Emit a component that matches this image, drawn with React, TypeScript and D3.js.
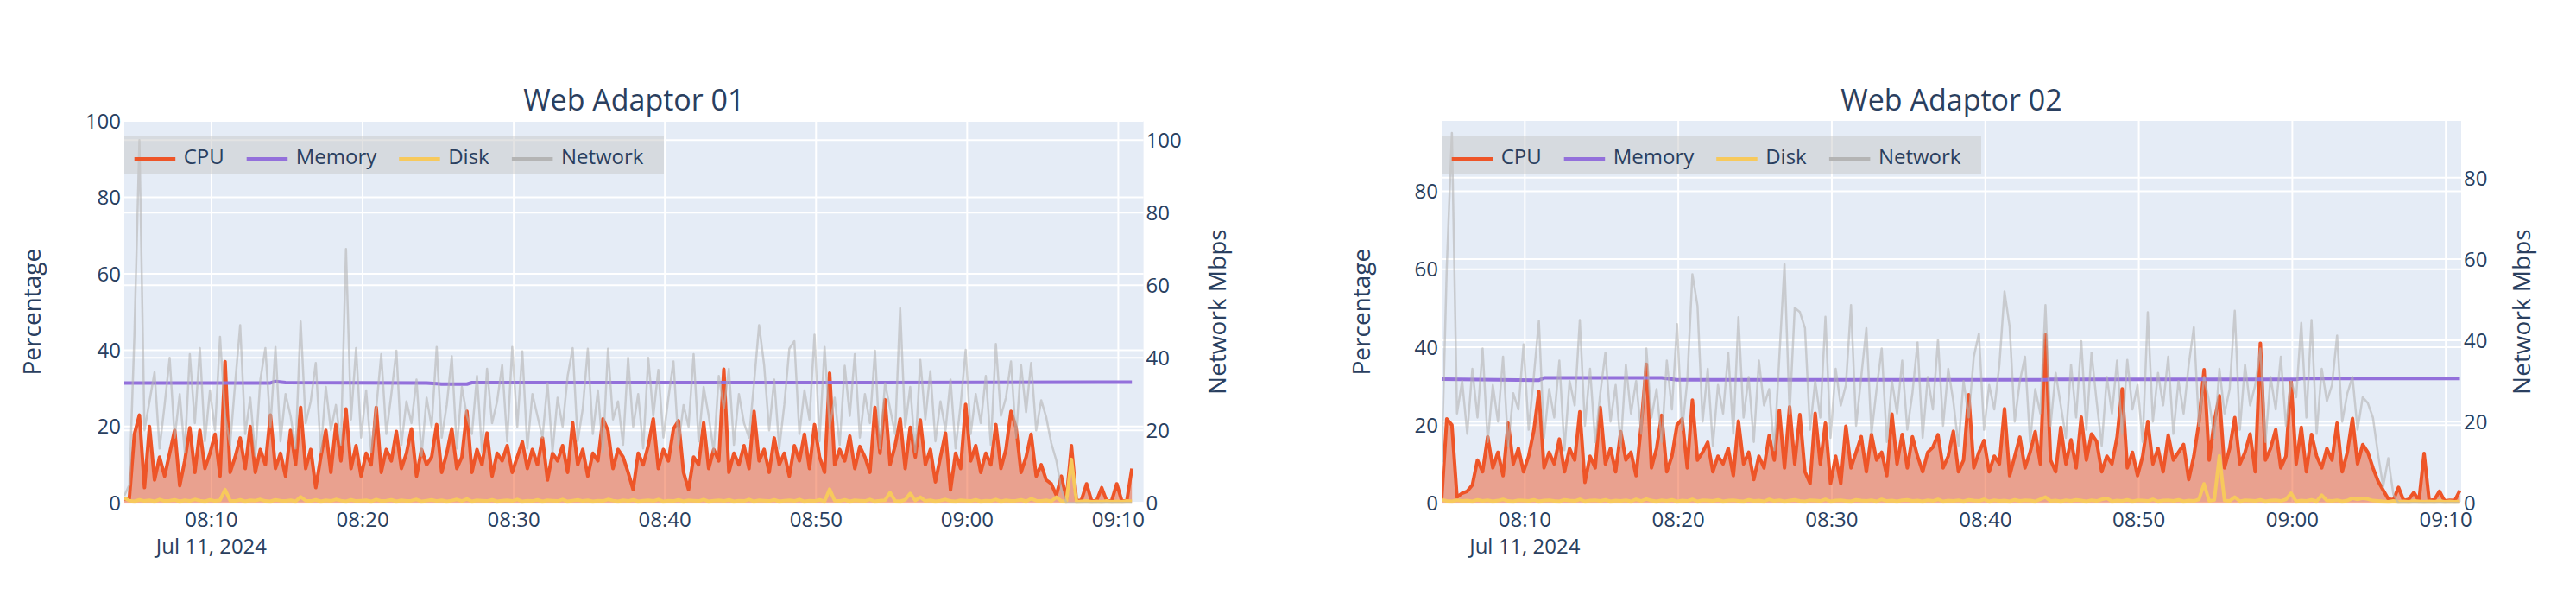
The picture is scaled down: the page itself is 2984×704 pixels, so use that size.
import React from "react";
import * as d3 from "d3";

// ---------------- DATA ----------------
const DAY = "2024-07-11T";
const SAMPLE_SECONDS = 20;

const AD1_TITLE = "Web Adaptor 01";
const AD1_START = "08:04:14";
const AD1_DOMAIN = ["08:04:14", "09:11:40"];
const AD1_CPU = [
  1, 1.2, 18, 23, 4, 20, 6, 12, 7, 13, 19, 4.5, 11, 19.7, 8, 19, 9, 13, 18, 7,
  37, 8, 12, 17, 9, 20, 8, 14, 10, 23, 9, 13, 7, 19, 10, 25, 9, 14, 4, 12,
  19, 8, 20.5, 11, 24.6, 9, 15, 7, 13, 10, 25, 8, 14, 11, 18.7, 9, 13, 19.4, 7, 14,
  10, 12, 20.5, 8, 13, 19.4, 9, 12, 24, 8, 14, 10, 18.3, 7, 13, 11, 15, 8, 12, 16,
  9, 14, 10, 17, 6, 13, 11, 15, 8, 21, 10, 14, 7, 13, 11, 22, 19, 9, 14, 12,
  8, 3.5, 13, 10, 15, 22, 9, 14, 11, 19.4, 21.5, 8, 3.5, 12, 10, 21, 9, 14, 11, 35,
  8, 13, 10, 15, 9, 24, 11, 14, 8, 17, 10, 13, 7, 15, 11, 18, 9, 20.5, 12, 8,
  34, 10, 14, 11, 17.5, 9, 14.8, 12, 8, 25, 13, 27, 10, 15, 22, 9, 19.8, 12, 21.7, 10,
  14, 5.5, 12, 18.3, 3.4, 13, 9, 25.8, 11, 15, 8, 13, 10, 20.5, 9, 14, 24, 19.8, 8, 12,
  18, 7, 10, 6, 5, 2, 7, 1, 15, 0.5, 0.8, 5, 0.5, 0.6, 4, 0.5, 0.6, 5, 0.5, 0.6,
  9,
];
const AD1_NETWORK = [
  2, 5, 46, 100, 20, 28, 36, 15, 27, 40, 18, 30, 14, 41, 22, 42.7, 17, 31, 20, 45.8,
  24, 16, 33, 49, 19, 29, 13, 34, 42.7, 21, 43, 17, 30, 24, 15, 50, 22, 28, 38.6, 14,
  32, 20, 27, 16, 70, 23, 42.7, 18, 31, 14, 26, 41, 19, 30, 42, 16, 28, 22, 34, 13,
  29, 21, 43, 18, 27, 40.4, 15, 32, 24, 19, 35, 14, 37, 22, 28, 38, 17, 43, 21, 41.8,
  15, 30, 24, 18, 33, 14, 29, 21, 35, 42.7, 17, 26, 42.5, 19, 31, 14, 42.5, 23, 28, 16,
  40, 21, 30, 15, 40, 24, 36.7, 18, 29, 39, 16, 27, 21, 41, 17, 32, 24, 14, 35, 26,
  37, 16, 30, 22, 18, 33, 49, 38, 20, 34, 15, 27, 42.5, 44.6, 19, 31, 23, 46.4, 17, 43,
  21, 29, 16, 37.8, 24, 41, 18, 30, 22, 42, 15, 33, 26, 19, 53.7, 21, 32, 14, 39.4, 23,
  36.3, 17, 28, 20, 34, 15, 27, 42.2, 19, 30, 22, 35, 16, 43.8, 24, 29, 39, 18, 38, 25,
  38.6, 20, 28.3, 23.6, 16.5, 11.7, 3.7, 0, 0, 0, 0, 0, 0, 0, 0, 0, 0, 0, 0, 0,
  0,
];
const AD1_DISK = [
  1.3, 0.6, 0.4, 0.8, 0.5, 0.7, 0.4, 0.9, 0.5, 0.6, 0.8, 0.4, 0.7, 0.5, 0.9, 0.6, 0.4, 0.8, 0.5, 0.7,
  3.5, 0.6, 0.5, 0.8, 0.4, 0.7, 0.6, 0.9, 0.5, 0.4, 0.8, 0.6, 0.5, 0.7, 0.4, 1.6, 0.6, 0.5, 0.8, 0.4,
  0.7, 0.5, 0.9, 0.6, 0.4, 0.8, 0.5, 0.6, 0.7, 0.4, 0.9, 0.5, 0.6, 0.8, 0.4, 0.7, 0.5, 0.6, 0.9, 0.4,
  0.6, 0.8, 0.5, 0.7, 0.4, 0.6, 0.9, 0.5, 1.0, 0.4, 0.7, 0.6, 0.5, 0.8, 0.4, 0.6, 0.7, 0.5, 0.9, 0.4,
  0.6, 0.5, 0.8, 0.4, 0.7, 0.6, 0.5, 0.9, 0.4, 0.6, 0.8, 0.5, 0.7, 0.4, 0.6, 0.5, 0.9, 0.6, 0.4, 0.7,
  0.5, 0.8, 0.4, 0.6, 0.7, 0.5, 0.9, 0.4, 0.6, 0.5, 0.8, 0.4, 0.7, 0.6, 0.5, 0.9, 0.4, 0.6, 0.7, 0.5,
  0.8, 0.4, 0.6, 0.5, 0.9, 0.4, 0.7, 0.6, 0.5, 0.8, 0.4, 0.6, 0.7, 0.5, 0.9, 0.4, 0.6, 0.5, 0.8, 0.4,
  3.6, 0.6, 0.5, 0.8, 0.4, 0.7, 0.6, 0.5, 0.9, 0.4, 0.6, 0.7, 2.7, 0.5, 0.4, 0.8, 2.5, 0.6, 1.5, 0.5,
  0.7, 0.4, 0.6, 0.9, 0.5, 0.4, 0.7, 0.6, 0.5, 0.8, 0.4, 0.6, 0.5, 0.9, 0.4, 0.7, 0.5, 0.6, 0.8, 0.4,
  1.1, 0.6, 0.5, 0.7, 0.4, 1.5, 0.5, 0.4, 11.4, 0.3, 0.4, 0.5, 0.3, 0.4, 0.3, 0.5, 0.3, 0.4, 0.3, 0.5,
  0.4,
];
const AD1_MEMORY_TIMES = ["08:04:14", "08:13:54", "08:14:14", "08:14:54", "08:24:14", "08:25:14", "08:26:54", "08:27:14", "08:51:14", "09:10:54"];
const AD1_MEMORY = [31.4, 31.4, 31.8, 31.5, 31.4, 31.1, 31.1, 31.5, 31.5, 31.6];

const AD2_TITLE = "Web Adaptor 02";
const AD2_START = "08:04:35";
const AD2_DOMAIN = ["08:04:35", "09:11:00"];
const AD2_CPU = [
  1, 21.6, 20, 1.5, 2.5, 3, 4.6, 11, 8, 17, 9, 13, 7, 20.5, 10, 14, 8, 12, 18.5, 28.6,
  9, 13, 10, 16.4, 8, 14, 11, 23.4, 5.3, 12, 9, 24.5, 10, 14, 8, 18.3, 11, 13, 7, 20,
  35.6, 9, 14, 22.5, 8, 12, 20, 21.6, 9, 26.4, 11, 13, 15.6, 8, 12, 10, 14, 7, 21, 10,
  13, 6, 12, 9, 17.3, 11, 23.8, 9, 24.7, 10, 22.7, 8, 5, 23, 10, 20.5, 5, 12, 5, 19.7,
  9, 13, 17, 8, 17.6, 11, 13, 7, 22.8, 10, 17.6, 9, 17, 12, 8, 13, 14.3, 17.5, 9, 12,
  18.4, 8, 11, 27.8, 9, 13, 16, 8, 12, 10, 24.2, 7, 12, 16.9, 9, 13, 18.3, 10, 43.2, 11,
  8, 19.4, 10, 16.2, 9, 22, 11, 17.7, 15.8, 8, 12, 10, 16.9, 29.3, 9, 13, 7, 12, 20.9, 10,
  14, 8, 17.4, 11, 13, 15, 6, 12, 20.7, 34.2, 11, 20.9, 27.5, 9, 14, 21.9, 10, 13, 17.7, 8,
  41, 11, 14, 18.8, 9, 12, 31.6, 10, 19.4, 8, 17.6, 12, 9, 14, 11, 20.5, 8, 13, 21.7, 10,
  15, 13, 9, 5.6, 3.3, 1, 0.8, 4, 0.6, 0.9, 2.7, 0.5, 12.7, 0.6, 0.8, 3, 0.5, 0.7, 0.6, 3.2,
];
const AD2_NETWORK = [
  10, 58, 91, 22, 30, 17, 33, 21, 38, 15, 29, 20, 36, 14, 27, 23, 39, 18, 31, 44.8,
  16, 28, 21, 35, 13, 30, 24, 45, 19, 33, 15, 27, 37, 20, 29, 14, 34, 22, 30, 17,
  38, 21, 28, 15, 35, 23, 44, 18, 30, 56.3, 48.5, 20, 33, 14, 29, 22, 37, 17, 45.7, 21,
  31, 15, 35, 24, 28, 13, 36, 58.7, 22, 48, 47, 43, 18, 30, 21, 45.8, 16, 33, 24, 29,
  48.7, 19, 31, 43, 17, 28, 38, 15, 30, 22, 35, 18, 27, 39.5, 16, 31, 23, 40.2, 19, 33,
  25, 14, 30, 21, 36, 41.7, 18, 29, 23, 34, 52, 43.4, 20, 30, 36, 15, 28, 22, 48.7, 19,
  32, 24, 16, 34, 21, 39.8, 18, 37, 25, 14, 31, 22, 35, 17, 35.2, 23, 29, 15, 46.9, 20,
  32, 24, 36, 17, 30, 22, 34, 43.2, 19, 31, 25, 16, 33, 22, 28, 47.3, 18, 34, 24, 29,
  38, 15, 31, 23, 36, 19, 30, 26, 44.3, 21, 45, 17, 33, 25, 29, 41.2, 20, 27, 31, 18,
  26, 24.6, 21, 12, 4, 11, 2, 0, 0, 0, 0, 0, 0, 0, 0, 0, 0, 0, 0, 0,
];
const AD2_DISK = [
  0.8, 0.5, 0.4, 0.7, 0.5, 0.6, 0.4, 0.8, 0.5, 0.7, 0.4, 0.6, 0.9, 0.5, 0.4, 0.7, 0.6, 0.5, 0.8, 0.4,
  0.6, 0.7, 0.5, 0.4, 0.8, 0.6, 0.5, 0.9, 0.4, 0.6, 0.7, 0.5, 0.8, 0.4, 0.6, 0.5, 0.7, 0.4, 0.9, 0.5,
  1.0, 0.6, 0.4, 0.7, 0.5, 0.8, 0.4, 0.6, 0.5, 0.9, 0.4, 0.7, 0.6, 0.5, 0.8, 0.4, 0.6, 0.7, 0.5, 0.4,
  0.8, 0.5, 0.6, 0.4, 0.9, 0.5, 0.7, 0.4, 0.6, 0.8, 0.5, 0.4, 0.7, 0.6, 0.5, 0.9, 0.4, 0.6, 0.7, 0.5,
  0.4, 0.8, 0.6, 0.5, 0.7, 0.4, 0.9, 0.5, 0.6, 0.4, 0.7, 0.8, 0.5, 0.6, 0.4, 0.7, 0.5, 0.9, 0.4, 0.6,
  0.5, 0.7, 0.4, 0.8, 0.6, 0.5, 0.9, 0.4, 0.7, 0.5, 0.6, 0.4, 0.8, 0.5, 0.7, 0.6, 0.4, 0.9, 1.5, 0.5,
  0.6, 0.4, 0.7, 0.5, 0.8, 0.6, 0.4, 0.7, 0.5, 0.9, 1.2, 0.4, 0.6, 0.5, 0.8, 0.4, 0.7, 0.6, 0.5, 0.9,
  0.4, 0.6, 0.7, 0.5, 0.8, 0.4, 0.6, 0.5, 0.9, 4.9, 0.5, 0.7, 12.1, 0.6, 0.5, 1.5, 0.4, 0.7, 0.6, 0.5,
  0.8, 0.4, 0.6, 0.7, 0.5, 0.9, 2.5, 0.4, 0.6, 0.5, 0.8, 0.4, 2.0, 0.6, 0.5, 0.7, 0.4, 0.6, 1.2, 0.9,
  1.2, 1.0, 0.6, 0.5, 0.4, 0.3, 0.5, 0.3, 0.4, 0.3, 0.5, 0.4, 0.3, 0.4, 0.3, 0.5, 0.3, 0.4, 0.3, 0.4,
];
const AD2_MEMORY_TIMES = ["08:04:35", "08:10:55", "08:11:15", "08:18:55", "08:19:55", "08:43:55", "08:44:15", "09:00:15", "09:00:35", "09:10:55"];
const AD2_MEMORY = [31.8, 31.5, 32.1, 32.1, 31.6, 31.6, 31.75, 31.75, 31.95, 31.95];

const X_TICKS = ["08:10", "08:20", "08:30", "08:40", "08:50", "09:00", "09:10"];
const DATE_LABEL = "Jul 11, 2024";
const AD1_LEFT_RANGE = [0, 100];
const AD1_RIGHT_RANGE = [0, 105.3];
const AD2_LEFT_RANGE = [0, 98.1];
const AD2_RIGHT_RANGE = [0, 94];
const AD1_LEFT_TICKS = [0, 20, 40, 60, 80, 100];
const AD1_RIGHT_TICKS = [0, 20, 40, 60, 80, 100];
const AD2_LEFT_TICKS = [0, 20, 40, 60, 80];
const AD2_RIGHT_TICKS = [0, 20, 40, 60, 80];
const SERIES_NAMES = ["CPU", "Memory", "Disk", "Network"];
const LEFT_TITLE = "Percentage";
const RIGHT_TITLE = "Network Mbps";

// ---------------- STYLE ----------------
const FONT = "'Open Sans', verdana, arial, sans-serif";
const TEXT = "#2a3f5f";
const PLOT_BG = "#e5ecf6";
const COLORS: Record<string, string> = {
  CPU: "#ee5528",
  Memory: "#9370db",
  Disk: "#f7c95c",
  Network: "#b4b4b4",
};

const parse = d3.timeParse("%Y-%m-%dT%H:%M:%S");
const toDate = (hms: string) => parse(DAY + hms) as Date;
const sampleTimes = (start: string, n: number) => {
  const t0 = toDate(start).getTime();
  return d3.range(n).map((i) => new Date(t0 + i * SAMPLE_SECONDS * 1000));
};

type PanelProps = {
  id: string;
  title: string;
  left: number;
  right: number;
  top: number;
  bottom: number;
  domain: string[];
  start: string;
  cpu: number[];
  net: number[];
  disk: number[];
  memTimes: string[];
  mem: number[];
  leftRange: number[];
  rightRange: number[];
  leftTicks: number[];
  rightTicks: number[];
  leftTitleX: number;
  rightTitleX: number;
};

const LEGEND_ITEM_X = [11.7, 141.7, 318.2, 448.9];
const LEGEND_W = 625;
const LEGEND_H = 44;
const LEGEND_TOP = 158;

function Panel(p: PanelProps) {
  const x = d3.scaleTime().domain(p.domain.map(toDate)).range([p.left, p.right]);
  const yL = d3.scaleLinear().domain(p.leftRange).range([p.bottom, p.top]);
  const yR = d3.scaleLinear().domain(p.rightRange).range([p.bottom, p.top]);
  const times = sampleTimes(p.start, p.cpu.length);
  const memDates = p.memTimes.map(toDate);

  const lineL = d3
    .line<[Date, number]>()
    .x((d) => x(d[0]))
    .y((d) => yL(d[1]));
  const lineR = d3
    .line<[Date, number]>()
    .x((d) => x(d[0]))
    .y((d) => yR(d[1]));
  const areaL = d3
    .area<[Date, number]>()
    .x((d) => x(d[0]))
    .y0(yL(0))
    .y1((d) => yL(d[1]));

  const cpuPts = p.cpu.map((v, i) => [times[i], v] as [Date, number]);
  const netPts = p.net.map((v, i) => [times[i], v] as [Date, number]);
  const diskPts = p.disk.map((v, i) => [times[i], v] as [Date, number]);
  const memPts = p.mem.map((v, i) => [memDates[i], v] as [Date, number]);

  const tickDates = X_TICKS.map((t) => toDate(t + ":00"));
  const cx = (p.left + p.right) / 2;
  const cy = (p.top + p.bottom) / 2;
  const clipId = "clip-" + p.id;

  return (
    <g>
      <defs>
        <clipPath id={clipId}>
          <rect x={p.left} y={p.top} width={p.right - p.left} height={p.bottom - p.top} />
        </clipPath>
      </defs>
      <rect x={p.left} y={p.top} width={p.right - p.left} height={p.bottom - p.top} fill={PLOT_BG} />
      {/* grid */}
      {tickDates.map((d, i) => (
        <line key={"gx" + i} x1={x(d)} x2={x(d)} y1={p.top} y2={p.bottom} stroke="#fff" strokeWidth={2} />
      ))}
      {p.leftTicks.map((t) => (
        <line key={"gl" + t} x1={p.left} x2={p.right} y1={yL(t)} y2={yL(t)} stroke="#fff" strokeWidth={2} />
      ))}
      {p.rightTicks.map((t) => (
        <line key={"gr" + t} x1={p.left} x2={p.right} y1={yR(t)} y2={yR(t)} stroke="#fff" strokeWidth={2} />
      ))}
      {/* data */}
      <g clipPath={`url(#${clipId})`}>
        <path d={areaL(cpuPts) || ""} fill={COLORS.CPU} fillOpacity={0.5} stroke="none" />
        <path d={lineL(cpuPts) || ""} fill="none" stroke={COLORS.CPU} strokeWidth={4} strokeLinejoin="round" />
        <path d={lineL(memPts) || ""} fill="none" stroke={COLORS.Memory} strokeWidth={4} strokeLinejoin="round" />
        <path d={lineL(diskPts) || ""} fill="none" stroke={COLORS.Disk} strokeWidth={4} strokeLinejoin="round" />
        <path d={lineR(netPts) || ""} fill="none" stroke={COLORS.Network} strokeOpacity={0.6} strokeWidth={2.5} strokeLinejoin="round" />
      </g>
      {/* x ticks */}
      {tickDates.map((d, i) => (
        <text key={"xt" + i} x={x(d)} y={p.bottom + 28} textAnchor="middle" fontSize={24} fill={TEXT} fontFamily={FONT}>
          {d3.timeFormat("%H:%M")(d)}
        </text>
      ))}
      <text x={x(tickDates[0])} y={p.bottom + 59} textAnchor="middle" fontSize={24} fill={TEXT} fontFamily={FONT}>
        {DATE_LABEL}
      </text>
      {/* y ticks */}
      {p.leftTicks.map((t) => (
        <text key={"yl" + t} x={p.left - 4} y={yL(t)} dy="0.36em" textAnchor="end" fontSize={24} fill={TEXT} fontFamily={FONT}>
          {t}
        </text>
      ))}
      {p.rightTicks.map((t) => (
        <text key={"yr" + t} x={p.right + 3} y={yR(t)} dy="0.36em" textAnchor="start" fontSize={24} fill={TEXT} fontFamily={FONT}>
          {t}
        </text>
      ))}
      {/* axis titles */}
      <text transform={`translate(${p.leftTitleX},${cy}) rotate(-90)`} textAnchor="middle" fontSize={28} fill={TEXT} fontFamily={FONT}>
        {LEFT_TITLE}
      </text>
      <text transform={`translate(${p.rightTitleX},${cy}) rotate(-90)`} textAnchor="middle" fontSize={28} fill={TEXT} fontFamily={FONT}>
        {RIGHT_TITLE}
      </text>
      {/* title */}
      <text x={cx} y={128} textAnchor="middle" fontSize={34} fill={TEXT} fontFamily={FONT}>
        {p.title}
      </text>
      {/* legend */}
      <rect x={p.left} y={LEGEND_TOP} width={LEGEND_W} height={LEGEND_H} fill="rgb(200,200,200)" fillOpacity={0.5} />
      {SERIES_NAMES.map((name, i) => {
        const lx = p.left + LEGEND_ITEM_X[i];
        return (
          <g key={name}>
            <line x1={lx} x2={lx + 47.5} y1={LEGEND_TOP + 26} y2={LEGEND_TOP + 26} stroke={COLORS[name]} strokeWidth={4} />
            <text x={lx + 57} y={LEGEND_TOP + 32} fontSize={24} fill={TEXT} fontFamily={FONT}>
              {name}
            </text>
          </g>
        );
      })}
    </g>
  );
}

export default function App() {
  return (
    <svg
      width={2984}
      height={704}
      viewBox="0 0 2984 704"
      style={{ position: "absolute", left: 0, top: 0, display: "block", background: "#fff" }}
    >
      <Panel
        id="a1"
        title={AD1_TITLE}
        left={144}
        right={1324.6}
        top={140}
        bottom={582.3}
        domain={AD1_DOMAIN}
        start={AD1_START}
        cpu={AD1_CPU}
        net={AD1_NETWORK}
        disk={AD1_DISK}
        memTimes={AD1_MEMORY_TIMES}
        mem={AD1_MEMORY}
        leftRange={AD1_LEFT_RANGE}
        rightRange={AD1_RIGHT_RANGE}
        leftTicks={AD1_LEFT_TICKS}
        rightTicks={AD1_RIGHT_TICKS}
        leftTitleX={47}
        rightTitleX={1420}
      />
      <Panel
        id="a2"
        title={AD2_TITLE}
        left={1670}
        right={2851}
        top={140}
        bottom={582.3}
        domain={AD2_DOMAIN}
        start={AD2_START}
        cpu={AD2_CPU}
        net={AD2_NETWORK}
        disk={AD2_DISK}
        memTimes={AD2_MEMORY_TIMES}
        mem={AD2_MEMORY}
        leftRange={AD2_LEFT_RANGE}
        rightRange={AD2_RIGHT_RANGE}
        leftTicks={AD2_LEFT_TICKS}
        rightTicks={AD2_RIGHT_TICKS}
        leftTitleX={1587}
        rightTitleX={2931}
      />
    </svg>
  );
}
